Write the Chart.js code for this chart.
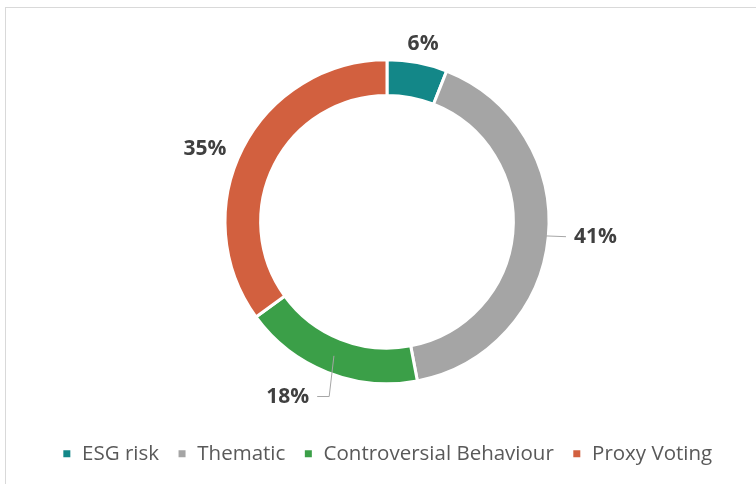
<!DOCTYPE html>
<html>
<head>
<meta charset="utf-8">
<script src="https://cdn.jsdelivr.net/npm/chart.js@4"></script>
<style>
  html, body { margin: 0; padding: 0; background: #ffffff; }
  #wrap { position: relative; width: 756px; height: 484px; overflow: hidden; }
  #frame { position: absolute; left: 5px; top: 7px; width: 760px; height: 490px;
           border-top: 1px solid #d9d9d9; border-left: 1px solid #d9d9d9; }
  canvas { position: absolute; left: 0; top: 0; }
</style>
</head>
<body>
<div id="wrap">
  <div id="frame"></div>
  <canvas id="c" width="756" height="484"></canvas>
</div>
<script>
const categories = ["ESG risk", "Thematic", "Controversial Behaviour", "Proxy Voting"];
const shares = [6, 41, 18, 35];
const colors = ["#138788", "#a5a5a5", "#3b9f48", "#d2603f"];

// label placement (style): extra radius beyond ring, angle shift in degrees, leader line
const labelStyle = [
  { extra: 19, shift: 0.7, leader: false },
  { extra: 47, shift: -1.3, leader: true },
  { extra: 39, shift: 8, leader: true },
  { extra: 34, shift: -5.3, leader: false }
];

const labelPlugin = {
  id: 'pctLabels',
  afterDatasetsDraw(chart) {
    const ctx = chart.ctx;
    const meta = chart.getDatasetMeta(0);
    const data = chart.data.datasets[0].data;
    ctx.save();
    ctx.font = 'bold 21px "Open Sans", Lato, sans-serif';
    ctx.textAlign = 'center';
    ctx.textBaseline = 'middle';
    meta.data.forEach((arc, i) => {
      const p = arc.getProps(['x', 'y', 'startAngle', 'endAngle', 'outerRadius', 'innerRadius'], true);
      const mid = (p.startAngle + p.endAngle) / 2;
      const st = labelStyle[i];
      const a = mid + st.shift * Math.PI / 180;
      const r = p.outerRadius + st.extra;
      const lx = p.x + Math.cos(a) * r;
      const ly = p.y + Math.sin(a) * r;
      const txt = data[i] + '%';
      const w = ctx.measureText(txt).width;
      if (st.leader) {
        const rm = (p.outerRadius + p.innerRadius) / 2;
        const sx = p.x + Math.cos(mid) * rm;
        const sy = p.y + Math.sin(mid) * rm;
        ctx.strokeStyle = '#a6a6a6';
        ctx.lineWidth = 1;
        ctx.beginPath();
        ctx.moveTo(sx, sy);
        if (lx > p.x) {
          ctx.lineTo(lx - w / 2 - 8, ly);
        } else {
          ctx.lineTo(lx + w / 2 + 20, ly);
          ctx.lineTo(lx + w / 2 + 8, ly);
        }
        ctx.stroke();
      }
      ctx.fillStyle = '#404040';
      ctx.fillText(txt, lx, ly);
    });
    ctx.restore();
  }
};

new Chart(document.getElementById('c'), {
  type: 'doughnut',
  data: {
    labels: categories,
    datasets: [{
      data: shares,
      backgroundColor: colors,
      borderColor: '#ffffff',
      borderWidth: 3,
      hoverOffset: 0
    }]
  },
  options: {
    responsive: false,
    animation: false,
    cutout: '78%',
    radius: 162,
    layout: { padding: { top: 18, left: 18, right: 0, bottom: 10 } },
    plugins: {
      tooltip: { enabled: false },
      legend: {
        position: 'bottom',
        labels: {
          boxWidth: 10,
          boxHeight: 10,
          padding: 18,
          color: '#595959',
          font: { size: 20.5, family: '"Open Sans", Lato, sans-serif' }
        }
      }
    }
  },
  plugins: [labelPlugin]
});
</script>
</body>
</html>
